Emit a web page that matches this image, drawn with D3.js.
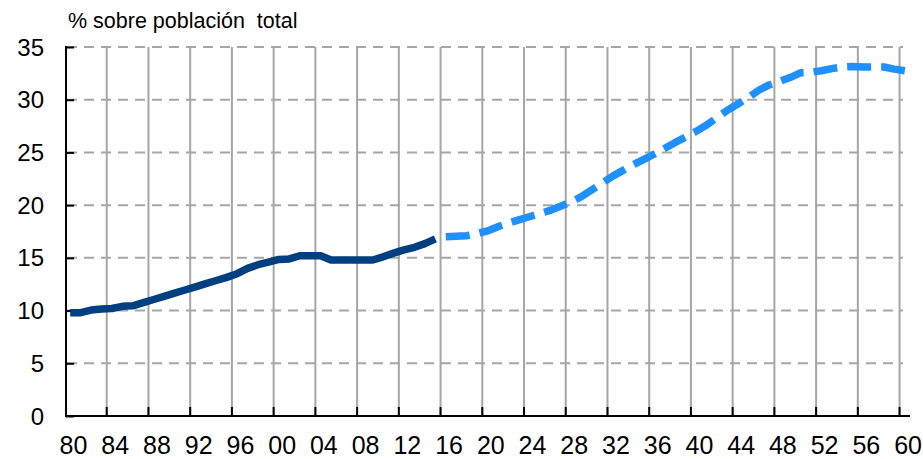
<!DOCTYPE html>
<html>
<head>
<meta charset="utf-8">
<script src="https://cdn.jsdelivr.net/npm/d3@7"></script>
<style>
  html, body { margin: 0; padding: 0; background: #ffffff; }
  svg { display: block; }
  text { font-family: "Liberation Sans", Arial, sans-serif; fill: #000; }
</style>
</head>
<body>
<svg id="chart" width="923" height="459"></svg>
<script>
// ---- Data ----
const histYears = d3.range(1980, 2016);
const histValues = [
  9.8, 9.8, 10.05, 10.15, 10.2, 10.4, 10.45, 10.75, 11.05, 11.35,
  11.65, 11.95, 12.25, 12.55, 12.85, 13.15, 13.5, 14.0, 14.35, 14.6,
  14.85, 14.9, 15.2, 15.2, 15.2, 14.8, 14.8, 14.8, 14.8, 14.8,
  15.1, 15.45, 15.75, 16.0, 16.35, 16.8
];
const projYears = d3.range(2016, 2061);
const projValues = [
  17.0, 17.05, 17.1, 17.3, 17.55, 17.95, 18.3, 18.6, 18.9, 19.2,
  19.5, 19.9, 20.3, 20.8, 21.45, 22.1, 22.75, 23.3, 23.85, 24.35,
  24.85, 25.4, 25.95, 26.45, 27.0, 27.6, 28.3, 29.0, 29.6, 30.2,
  30.9, 31.4, 31.75, 32.1, 32.55, 32.6, 32.75, 32.95, 33.1, 33.15,
  33.1, 33.1, 33.1, 32.9, 32.75
];
const allYears = d3.range(1980, 2061);
const xTickYears = d3.range(1980, 2061, 4);
const yTicks = [0, 5, 10, 15, 20, 25, 30, 35];
const yLabel = "% sobre población  total";

(function () {
// ---- Layout ----
const svg = d3.select("#chart");
const mLeft = 65, mRight = 910, mTop = 47, mBottom = 416;

const x = d3.scaleBand().domain(allYears).range([mLeft, mRight]).padding(0);
const y = d3.scaleLinear().domain([0, 35]).range([mBottom, mTop]);
const xc = yr => x(yr) + x.bandwidth() / 2;

// Horizontal dashed gridlines
svg.append("g").selectAll("line")
  .data(yTicks.filter(v => v > 0))
  .join("line")
  .attr("x1", mLeft + 2).attr("x2", 903)
  .attr("y1", d => y(d)).attr("y2", d => y(d))
  .attr("stroke", "#a6a6a6").attr("stroke-width", 2)
  .attr("stroke-dasharray", "10,7");

// Vertical solid gridlines
svg.append("g").selectAll("line")
  .data(xTickYears.filter(v => v > 1980))
  .join("line")
  .attr("x1", d => x(d)).attr("x2", d => x(d))
  .attr("y1", mTop).attr("y2", mBottom)
  .attr("stroke", "#a6a6a6").attr("stroke-width", 2);

// X axis
const xAxis = d3.axisBottom(x)
  .tickValues(xTickYears.filter(v => v > 1980))
  .tickSize(-9)
  .tickFormat("");
const gx = svg.append("g").attr("transform", `translate(0,${mBottom})`).call(xAxis);
gx.select(".domain").remove();
gx.selectAll(".tick").attr("transform", d => `translate(${x(d)},0)`);
gx.selectAll(".tick line").attr("stroke", "#000").attr("stroke-width", 2);
svg.append("line")
  .attr("x1", mLeft).attr("x2", mRight)
  .attr("y1", mBottom).attr("y2", mBottom)
  .attr("stroke", "#000").attr("stroke-width", 2);

// X labels
svg.append("g").selectAll("text")
  .data(xTickYears)
  .join("text")
  .attr("x", d => x(d) + 8.5)
  .attr("y", 454)
  .attr("text-anchor", "middle")
  .style("font-size", "25px")
  .text(d => String(d % 100).padStart(2, "0"));

// Y axis
const yAxis = d3.axisLeft(y).tickValues(yTicks).tickSize(-8).tickFormat("");
const gy = svg.append("g").attr("transform", `translate(${mLeft + 1},0)`).call(yAxis);
gy.select(".domain").remove();
gy.selectAll(".tick line").attr("stroke", "#000").attr("stroke-width", 2);
svg.append("line")
  .attr("x1", mLeft + 1).attr("x2", mLeft + 1)
  .attr("y1", mTop - 1).attr("y2", mBottom + 1)
  .attr("stroke", "#000").attr("stroke-width", 2);

// Y labels
svg.append("g").selectAll("text")
  .data(yTicks)
  .join("text")
  .attr("x", 44)
  .attr("y", d => y(d))
  .attr("dy", "0.36em")
  .attr("text-anchor", "end")
  .style("font-size", "24px")
  .text(d => d);

// Title
svg.append("text")
  .attr("x", 68).attr("y", 28)
  .style("font-size", "21.5px")
  .style("white-space", "pre")
  .text(yLabel);

// Lines
const line = d3.line().x(d => xc(d[0])).y(d => y(d[1]));

svg.append("path")
  .datum(histYears.map((yr, i) => [yr, histValues[i]]))
  .attr("d", line)
  .attr("fill", "none")
  .attr("stroke", "#003f80")
  .attr("stroke-width", 7.5)
  .attr("stroke-linejoin", "round");

svg.append("path")
  .datum(projYears.map((yr, i) => [yr, projValues[i]]))
  .attr("d", line)
  .attr("fill", "none")
  .attr("stroke", "#1e90ff")
  .attr("stroke-width", 7.5)
  .attr("stroke-linejoin", "round")
  .attr("stroke-dasharray", "24,10");
})();
</script>
</body>
</html>
